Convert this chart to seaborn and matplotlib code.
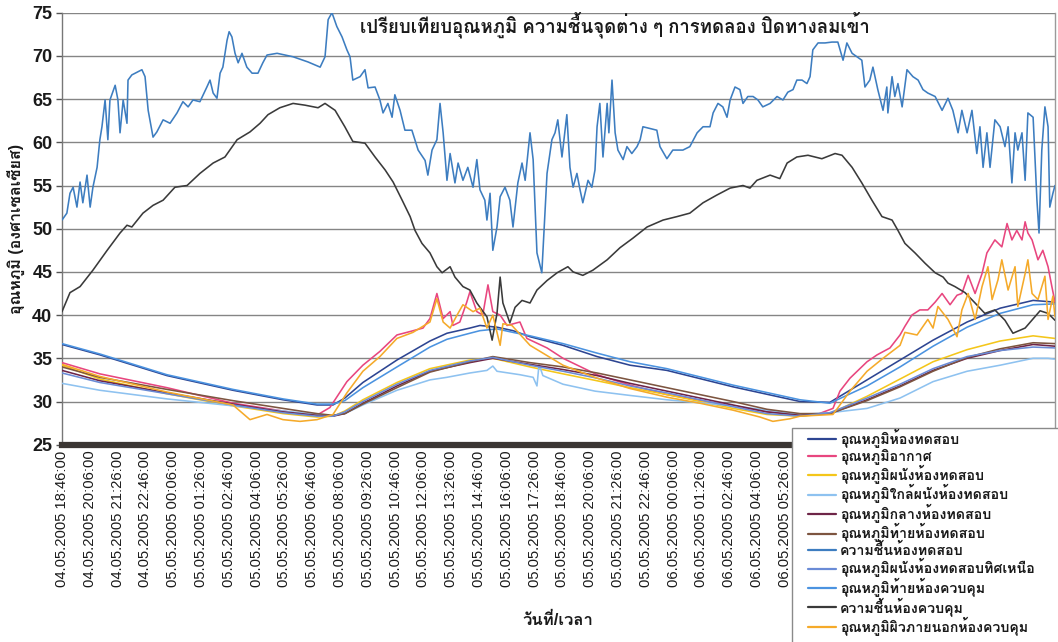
import numpy as np
import pandas as pd
import matplotlib
matplotlib.use("Agg")
import matplotlib.pyplot as plt
import matplotlib.dates as mdates
from matplotlib.lines import Line2D
from matplotlib.patches import Rectangle
from matplotlib import font_manager
from matplotlib.ft2font import FT2Font
import seaborn as sns

# ---------------------------------------------------------------- data
START = "2005-05-04 18:46:00"
END_MIN = 2858          # last logged minute shown on the axis
TICK_STEP_MIN = 80      # spacing of the date/time tick labels
LAST_TICK_MIN = 2080    # labels further right sit under the legend box

TITLE = "เปรียบเทียบอุณหภูมิ ความชื้นจุดต่าง ๆ การทดลอง ปิดทางลมเข้า"
Y_LABEL = "อุณหภูมิ (องศาเซลเซียส)"
X_LABEL = "วันที่/เวลา"

SERIES_NAMES = [
    "อุณหภูมิห้องทดสอบ",
    "อุณหภูมิอากาศ",
    "อุณหภูมิผนังห้องทดสอบ",
    "อุณหภูมิใกล้ผนังห้องทดสอบ",
    "อุณหภูมิกลางห้องทดสอบ",
    "อุณหภูมิท้ายห้องทดสอบ",
    "ความชื้นห้องทดสอบ",
    "อุณหภูมิผนังห้องทดสอบทิศเหนือ",
    "อุณหภูมิท้ายห้องควบคุม",
    "ความชื้นห้องควบคุม",
    "อุณหภูมิผิวภายนอกห้องควบคุม",
]

# minutes after START for the slowly varying room temperatures
PAIR_MIN = [0, 109, 302, 492, 636, 734, 780, 814, 866, 964, 1059, 1108, 1174, 1203,
            1252, 1298, 1347, 1442, 1540, 1635, 1741, 1931, 2124, 2210, 2317, 2412,
            2507, 2605, 2700, 2795, 2858]
TEST_ROOM = [36.6, 35.4, 33.0, 31.3, 30.2, 29.6, 29.6, 30.4, 32.2, 34.8, 37.0, 37.9,
             38.5, 38.8, 38.6, 38.2, 37.5, 36.5, 35.2, 34.2, 33.6, 31.7, 30.0, 29.9,
             32.5, 34.8, 37.1, 39.2, 40.8, 41.7, 41.5]
CONTROL_REAR = [36.7, 35.5, 33.1, 31.4, 30.3, 29.7, 29.7, 30.1, 31.6, 34.0, 36.3, 37.2,
                37.9, 38.2, 38.4, 38.0, 37.6, 36.7, 35.6, 34.6, 33.8, 31.9, 30.2, 29.8,
                31.8, 34.0, 36.4, 38.6, 40.2, 41.2, 41.3]

BUNDLE_MIN = [0, 109, 302, 492, 636, 734, 780, 814, 866, 964, 1059, 1174, 1240, 1347,
              1442, 1540, 1635, 1741, 1931, 2029, 2124, 2210, 2317, 2412, 2507, 2605,
              2700, 2795, 2858]
MIDDLE = [33.6, 32.4, 31.0, 29.7, 28.8, 28.4, 28.3, 28.6, 29.8, 31.8, 33.5, 34.5, 35.0,
          34.3, 33.7, 33.0, 32.1, 31.2, 29.6, 28.8, 28.4, 28.6, 30.2, 31.8, 33.6, 35.0,
          35.9, 36.6, 36.4]
REAR = [34.0, 32.8, 31.4, 30.1, 29.2, 28.6, 28.4, 28.6, 29.7, 31.6, 33.4, 34.6, 35.2,
        34.5, 34.0, 33.3, 32.5, 31.6, 30.0, 29.1, 28.6, 28.6, 30.1, 31.7, 33.5, 35.1,
        36.1, 36.8, 36.7]
NORTH_WALL = [33.3, 32.2, 30.9, 29.6, 28.7, 28.3, 28.3, 28.8, 30.0, 32.0, 33.6, 34.7,
              35.1, 34.2, 33.5, 32.7, 31.8, 31.0, 29.4, 28.6, 28.3, 28.7, 30.4, 32.0,
              33.8, 35.2, 35.9, 36.3, 36.2]
WALL = [34.2, 32.6, 30.9, 29.5, 28.6, 28.2, 28.3, 28.9, 30.2, 32.2, 33.8, 34.8, 35.0,
        34.0, 33.2, 32.4, 31.6, 30.8, 29.2, 28.5, 28.3, 28.6, 30.6, 32.6, 34.6, 36.0,
        37.0, 37.6, 37.3]

NEAR_WALL_MIN = [0, 109, 302, 492, 636, 734, 780, 814, 866, 964, 1059, 1108, 1174,
                 1223, 1240, 1252, 1318, 1356, 1367, 1373, 1384, 1442, 1534, 1635,
                 1741, 1931, 2029, 2124, 2210, 2317, 2412, 2507, 2605, 2700, 2795,
                 2838, 2858]
NEAR_WALL = [32.1, 31.3, 30.3, 29.5, 28.9, 28.5, 28.4, 28.6, 29.6, 31.3, 32.5, 32.8,
             33.3, 33.6, 34.1, 33.5, 33.1, 32.8, 31.8, 34.3, 33.0, 32.0, 31.2, 30.7,
             30.2, 29.5, 29.0, 28.5, 28.7, 29.2, 30.4, 32.3, 33.5, 34.2, 35.0, 35.0,
             34.9]

AIR_MIN = [0, 109, 302, 492, 636, 685, 737, 771, 820, 866, 915, 964, 1002, 1039, 1059,
           1079, 1097, 1117, 1125, 1145, 1165, 1174, 1194, 1211, 1226, 1240, 1261,
           1281, 1318, 1338, 1396, 1442, 1540, 1635, 1741, 1931, 2029, 2124, 2173,
           2219, 2239, 2268, 2317, 2346, 2383, 2412, 2426, 2446, 2469, 2492, 2513,
           2533, 2556, 2576, 2590, 2608, 2628, 2648, 2662, 2685, 2705, 2720, 2734,
           2748, 2763, 2772, 2780, 2792, 2809, 2823, 2838, 2849, 2858]
AIR = [34.5, 33.2, 31.6, 29.8, 28.9, 28.6, 28.5, 29.3, 32.3, 34.2, 35.8, 37.7, 38.1,
       38.5, 39.6, 42.5, 39.6, 40.4, 38.8, 39.2, 41.5, 42.7, 40.4, 40.0, 43.5, 40.4,
       40.0, 38.8, 39.2, 37.3, 36.2, 35.0, 33.1, 31.9, 30.8, 29.5, 28.8, 28.5, 28.5,
       29.2, 31.2, 32.7, 34.6, 35.4, 36.2, 37.7, 38.7, 40.0, 40.6, 40.6, 41.5, 42.5,
       41.2, 42.3, 42.5, 44.6, 42.5, 44.8, 47.2, 48.7, 47.9, 50.6, 48.7, 49.8, 48.7,
       50.8, 49.5, 48.7, 46.4, 47.5, 45.6, 43.3, 41.5]

OUTER_MIN = [0, 109, 302, 492, 541, 590, 636, 685, 734, 780, 820, 866, 915, 964, 1010,
             1059, 1079, 1097, 1117, 1137, 1154, 1183, 1203, 1223, 1240, 1261, 1269,
             1295, 1347, 1442, 1540, 1635, 1741, 1836, 1931, 2009, 2046, 2095, 2124,
             2219, 2268, 2317, 2363, 2412, 2426, 2461, 2492, 2507, 2521, 2550, 2576,
             2590, 2608, 2628, 2648, 2665, 2677, 2694, 2705, 2723, 2743, 2751, 2772,
             2780, 2792, 2809, 2829, 2838, 2852, 2858]
OUTER = [34.3, 32.9, 31.1, 29.6, 27.9, 28.5, 27.9, 27.7, 27.9, 28.5, 31.0, 33.5, 35.2,
         37.3, 38.0, 39.2, 41.9, 39.2, 38.5, 40.0, 41.2, 40.4, 40.8, 38.5, 40.0, 36.5,
         39.0, 38.8, 36.5, 34.2, 32.7, 31.5, 30.5, 29.8, 29.0, 28.2, 27.7, 28.0, 28.3,
         28.5, 31.2, 33.5, 35.0, 36.5, 38.0, 37.7, 39.5, 38.5, 41.0, 39.5, 37.5, 40.6,
         42.5, 39.5, 43.3, 45.6, 41.8, 44.1, 46.4, 42.9, 45.6, 41.0, 44.8, 46.4, 42.5,
         41.8, 44.5, 39.5, 42.2, 39.8]

HUM_TEST_MIN = [0, 14, 23, 32, 43, 52, 60, 72, 81, 89, 101, 109, 115, 124, 132, 138,
                153, 161, 167, 176, 187, 190, 201, 230, 239, 248, 262, 273, 291, 311,
                331, 348, 363, 377, 397, 417, 426, 435, 446, 455, 463, 475, 481, 489,
                498, 507, 518, 532, 547, 564, 578, 590, 619, 665, 708, 743, 757, 766,
                777, 791, 806, 820, 829, 837, 858, 872, 881, 901, 915, 924, 938, 950,
                958, 973, 987, 1007, 1025, 1045, 1053, 1065, 1079, 1088, 1097, 1108,
                1117, 1131, 1140, 1154, 1168, 1183, 1194, 1203, 1217, 1223, 1232, 1240,
                1252, 1261, 1275, 1289, 1298, 1312, 1324, 1333, 1347, 1356, 1367, 1381,
                1396, 1410, 1419, 1427, 1439, 1453, 1462, 1471, 1482, 1491, 1499, 1514,
                1525, 1534, 1540, 1548, 1557, 1569, 1574, 1583, 1592, 1600, 1615, 1626,
                1640, 1655, 1664, 1672, 1692, 1712, 1721, 1741, 1758, 1787, 1807, 1828,
                1845, 1865, 1874, 1888, 1902, 1914, 1923, 1937, 1951, 1960, 1974, 1989,
                2003, 2017, 2038, 2058, 2075, 2089, 2104, 2115, 2130, 2144, 2153, 2161,
                2176, 2196, 2216, 2233, 2248, 2259, 2274, 2288, 2302, 2311, 2325, 2334,
                2348, 2363, 2374, 2377, 2389, 2397, 2406, 2418, 2432, 2449, 2464, 2478,
                2492, 2513, 2533, 2550, 2564, 2579, 2590, 2605, 2619, 2633, 2642, 2651,
                2662, 2671, 2685, 2700, 2714, 2723, 2734, 2743, 2751, 2763, 2772, 2780,
                2795, 2806, 2812, 2820, 2829, 2838, 2843, 2852, 2858]
HUM_TEST = [51.0, 51.8, 54.1, 54.8, 52.5, 55.4, 53.0, 56.2, 52.5, 54.8, 57.1, 60.3, 61.8,
            64.9, 60.3, 64.9, 66.6, 64.9, 61.1, 64.9, 62.2, 67.2, 67.8, 68.4, 67.6, 63.7,
            60.6, 61.2, 62.6, 62.2, 63.4, 64.7, 64.1, 64.9, 64.7, 66.4, 67.2, 65.7, 65.1,
            68.0, 68.7, 71.8, 72.8, 72.2, 70.3, 69.2, 70.3, 68.7, 68.0, 68.0, 69.2, 70.1,
            70.3, 69.9, 69.3, 68.7, 69.9, 74.2, 75.0, 73.4, 72.2, 70.7, 69.9, 67.2, 67.6,
            68.4, 66.3, 66.4, 64.9, 63.4, 64.5, 62.9, 65.5, 63.7, 61.4, 61.4, 59.1, 57.9,
            56.2, 59.1, 60.3, 64.5, 61.1, 55.6, 58.7, 55.3, 57.6, 55.6, 57.1, 54.8, 58.0,
            54.5, 53.3, 51.0, 54.1, 47.5, 50.2, 53.7, 54.8, 53.3, 50.2, 55.3, 57.6, 55.6,
            61.1, 58.0, 47.2, 44.9, 56.4, 60.3, 61.1, 62.6, 58.3, 63.2, 57.1, 54.8, 56.4,
            54.5, 53.0, 55.6, 54.8, 56.8, 61.8, 64.5, 58.3, 64.5, 61.1, 67.2, 61.1, 59.1,
            58.0, 59.5, 58.7, 59.5, 60.3, 61.8, 61.6, 61.4, 59.5, 58.1, 59.1, 59.1, 59.5,
            61.1, 61.8, 61.8, 63.4, 64.5, 64.1, 62.9, 64.9, 66.4, 66.1, 64.5, 65.3, 65.3,
            64.9, 64.1, 64.5, 65.3, 64.9, 65.8, 66.1, 67.2, 67.2, 66.8, 67.6, 70.7, 71.5,
            71.5, 71.6, 71.6, 69.5, 71.5, 70.3, 69.9, 69.5, 66.4, 67.2, 68.7, 66.1, 63.7,
            66.4, 63.4, 67.6, 65.3, 66.8, 64.1, 68.4, 67.6, 67.2, 66.1, 65.7, 65.3, 63.7,
            65.1, 63.7, 61.1, 63.7, 61.1, 63.7, 58.7, 61.8, 57.1, 61.1, 57.1, 62.6, 61.8,
            59.5, 61.8, 55.3, 61.1, 59.1, 61.1, 55.6, 63.4, 62.9, 53.3, 49.5, 59.1, 64.1,
            61.8, 52.5, 54.1, 55.0]

HUM_CTRL_MIN = [0, 23, 52, 89, 130, 167, 187, 201, 233, 262, 291, 325, 360, 397, 435,
                469, 504, 541, 570, 593, 627, 665, 699, 737, 757, 786, 814, 837, 872,
                901, 930, 953, 979, 1002, 1016, 1036, 1059, 1079, 1094, 1117, 1131,
                1154, 1174, 1194, 1223, 1238, 1252, 1261, 1269, 1289, 1304, 1324, 1347,
                1367, 1396, 1425, 1456, 1471, 1499, 1528, 1569, 1606, 1643, 1684, 1730,
                1770, 1807, 1845, 1885, 1923, 1960, 1980, 2000, 2038, 2066, 2087, 2115,
                2147, 2187, 2225, 2245, 2274, 2302, 2331, 2360, 2389, 2406, 2426, 2455,
                2484, 2513, 2536, 2550, 2570, 2599, 2628, 2656, 2685, 2714, 2737, 2772,
                2815, 2838, 2858]
HUM_CTRL = [40.4, 42.6, 43.3, 45.2, 47.5, 49.5, 50.4, 50.2, 51.8, 52.7, 53.3, 54.8, 55.0,
            56.4, 57.6, 58.3, 60.3, 61.2, 62.2, 63.2, 64.0, 64.5, 64.3, 64.0, 64.5, 63.7,
            61.8, 60.1, 59.9, 58.3, 56.8, 55.4, 53.3, 51.4, 49.8, 48.3, 47.2, 45.6, 44.9,
            45.6, 44.4, 43.3, 42.9, 41.4, 39.8, 37.1, 40.2, 44.4, 41.4, 39.1, 40.9, 41.7,
            41.4, 42.9, 44.0, 44.9, 45.6, 45.0, 44.6, 45.2, 46.4, 47.8, 48.9, 50.2, 51.0,
            51.4, 51.8, 53.0, 53.9, 54.7, 55.0, 54.7, 55.6, 56.2, 55.8, 57.6, 58.3, 58.5,
            58.1, 58.7, 58.5, 57.1, 55.3, 53.3, 51.4, 51.0, 49.8, 48.3, 47.2, 46.0, 44.9,
            44.4, 43.7, 43.3, 42.6, 41.4, 40.2, 40.6, 39.4, 37.9, 38.5, 40.5, 40.2, 39.4]

SERIES_DATA = {
    SERIES_NAMES[0]: (PAIR_MIN, TEST_ROOM),
    SERIES_NAMES[1]: (AIR_MIN, AIR),
    SERIES_NAMES[2]: (BUNDLE_MIN, WALL),
    SERIES_NAMES[3]: (NEAR_WALL_MIN, NEAR_WALL),
    SERIES_NAMES[4]: (BUNDLE_MIN, MIDDLE),
    SERIES_NAMES[5]: (BUNDLE_MIN, REAR),
    SERIES_NAMES[6]: (HUM_TEST_MIN, HUM_TEST),
    SERIES_NAMES[7]: (BUNDLE_MIN, NORTH_WALL),
    SERIES_NAMES[8]: (PAIR_MIN, CONTROL_REAR),
    SERIES_NAMES[9]: (HUM_CTRL_MIN, HUM_CTRL),
    SERIES_NAMES[10]: (OUTER_MIN, OUTER),
}

COLORS = ["#2d4592", "#e8467f", "#f4c61a", "#8ec2f0", "#6e2548", "#7d5540",
          "#3d7dc0", "#6a8bd6", "#4b93e0", "#3a3a3a", "#f5aa2a"]

# ---------------------------------------------------------------- fonts
def find_thai_family():
    for entry in font_manager.fontManager.ttflist:
        try:
            cmap = FT2Font(entry.fname).get_charmap()
        except Exception:
            continue
        if 0x0E01 in cmap and 0x0E2D in cmap:
            return entry.name
    return None

sns.set_theme(style="white")
thai = find_thai_family()
families = ["Liberation Sans"] + ([thai] if thai else []) + ["DejaVu Sans"]
plt.rcParams["font.family"] = families

# ---------------------------------------------------------------- frame
start = pd.Timestamp(START)
rows = []
for name in SERIES_NAMES:
    mins, vals = SERIES_DATA[name]
    for m, v in zip(mins, vals):
        rows.append((start + pd.Timedelta(minutes=m), v, name))
df = pd.DataFrame(rows, columns=["time", "value", "series"])

# ---------------------------------------------------------------- figure
W, H = 1058, 642
fig = plt.figure(figsize=(W / 100, H / 100), dpi=100)
fig.patch.set_facecolor("white")
ax = fig.add_axes([62 / W, 1 - 444.7 / H, (1055 - 62) / W, (444.7 - 12.7) / H])
ax.set_facecolor("white")

sns.lineplot(data=df, x="time", y="value", hue="series", hue_order=SERIES_NAMES,
             palette=COLORS, estimator=None, sort=False, linewidth=1.15,
             legend=False, ax=ax, zorder=3)

ax.set_xlim(start, start + pd.Timedelta(minutes=END_MIN))
ax.set_ylim(25, 75)
ax.set_yticks(np.arange(25, 76, 5))
ax.yaxis.grid(True, color="#858585", linewidth=1.0, zorder=1)
ax.xaxis.grid(False)

ticks = [start + pd.Timedelta(minutes=m)
         for m in range(0, LAST_TICK_MIN + 1, TICK_STEP_MIN)]
ax.set_xticks(ticks)
ax.xaxis.set_major_formatter(mdates.DateFormatter("%d.%m.%Y %H:%M:%S"))
ax.tick_params(axis="x", labelrotation=90, labelsize=10.6, length=0, pad=4,
               labelcolor="#1a1a1a")
ax.tick_params(axis="y", labelsize=13, length=4, width=1, color="#555555",
               direction="out", pad=3, labelcolor="#1a1a1a", left=True)
for lab in ax.get_yticklabels():
    lab.set_fontweight("bold")

ax.spines["top"].set_visible(False)
ax.spines["left"].set_color("#777777")
ax.spines["left"].set_linewidth(1.0)
ax.spines["right"].set_color("#9a9a9a")
ax.spines["right"].set_linewidth(1.0)
ax.spines["bottom"].set_color("#3b3633")
ax.spines["bottom"].set_linewidth(4.5)

ax.set_xlabel("")
ax.set_ylabel("")
fig.text(16 / W, 1 - 229 / H, Y_LABEL, rotation=90, ha="center", va="center",
         fontsize=11.5, fontweight="bold", color="#1a1a1a")
fig.text(558 / W, 1 - 620 / H, X_LABEL, ha="center", va="center",
         fontsize=12, fontweight="bold", color="#1a1a1a")
fig.text(615 / W, 1 - 25 / H, TITLE, ha="center", va="center",
         fontsize=13.4, fontweight="bold", color="#1a1a1a")

# legend box: white panel over the lower right corner of the figure
fig.patches.append(Rectangle((792 / W, -0.01), 0.3, (642 - 428) / H + 0.01,
                             transform=fig.transFigure, facecolor="white",
                             edgecolor="#8a8a8a", linewidth=1.0, zorder=4))
handles = [Line2D([0], [0], color=c, linewidth=1.6) for c in COLORS]
leg = fig.legend(handles, SERIES_NAMES, loc="upper left",
                 bbox_to_anchor=(808 / W, 1 - 429 / H), frameon=False,
                 fontsize=10.2, handlelength=2.0, handletextpad=0.25,
                 labelspacing=0.03, borderpad=0.0, borderaxespad=0.0)
leg.set_zorder(5)
for t in leg.get_texts():
    t.set_fontweight("bold")
    t.set_color("#1a1a1a")

fig.savefig("out.png", dpi=100, facecolor="white")
